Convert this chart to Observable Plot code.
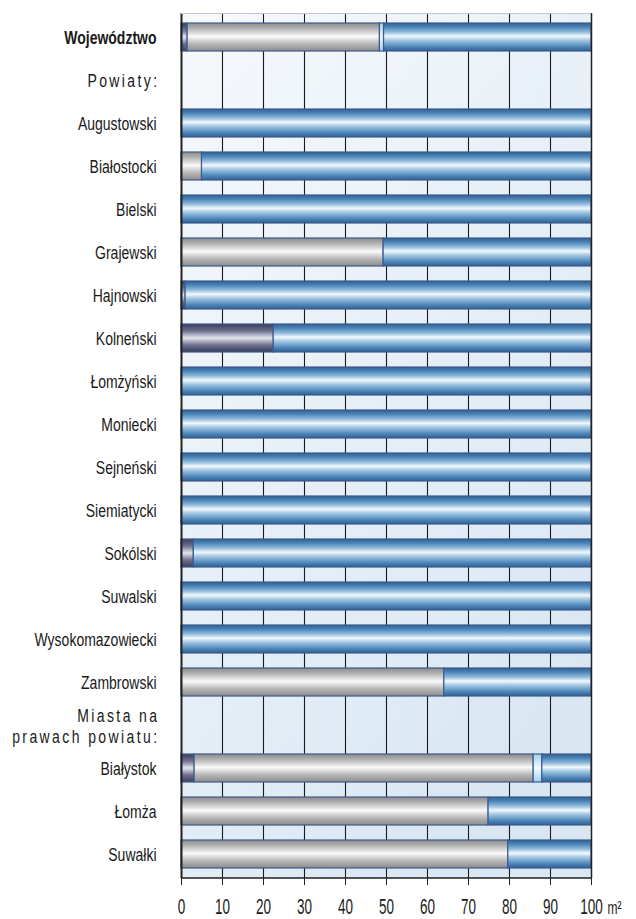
<!DOCTYPE html>
<html>
<head>
<meta charset="utf-8">
<script src="https://cdn.jsdelivr.net/npm/d3@7"></script>
<script src="https://cdn.jsdelivr.net/npm/@observablehq/plot@0.6"></script>
<style>
  body { margin: 0; background: #fff; }
</style>
</head>
<body>
<div id="chart"></div>
<script>
// ---- data ----
const categories = ["Województwo","Powiaty:","Augustowski","Białostocki","Bielski","Grajewski","Hajnowski","Kolneński","Łomżyński","Moniecki","Sejneński","Siemiatycki","Sokólski","Suwalski","Wysokomazowiecki","Zambrowski","Miasta na\nprawach powiatu:","Białystok","Łomża","Suwałki"];
const totalRow = "Województwo";
const sectionHeaders = ["Powiaty:","Miasta na\nprawach powiatu:"];
const seriesNames = ["seria 1","seria 2","seria 3","seria 4"];
const series1 = [1.5, null, 0, 0, 0, 0, 1, 22.5, 0, 0, 0, 0, 3, 0, 0, 0, null, 3.2, 0, 0];
const series2 = [46.9, null, 0, 5, 0, 49.3, 0, 0, 0, 0, 0, 0, 0, 0, 0, 64.1, null, 82.7, 74.9, 79.7];
const series3 = [1.0, null, 0, 0, 0, 0, 0, 0, 0, 0, 0, 0, 0, 0, 0, 0, null, 2.1, 0, 0];
const series4 = [50.6, null, 100, 95, 100, 50.7, 99, 77.5, 100, 100, 100, 100, 97, 100, 100, 35.9, null, 12.0, 25.1, 20.3];
const xTicks = [0,10,20,30,40,50,60,70,80,90,100];
const unitLabel = "m²";

// ---- table ----
const allSeries = [series1, series2, series3, series4];
const table = [];
allSeries.forEach((vals, s) => {
  vals.forEach((v, i) => {
    if (v != null && v > 0) table.push({row: categories[i], series: seriesNames[s], value: v});
  });
});

const NS = "http://www.w3.org/2000/svg";
const defsMark = () => {
  const defs = document.createElementNS(NS, "defs");
  defs.innerHTML = `
  <linearGradient id="bgGrad" x1="0" y1="0" x2="0.6" y2="1">
    <stop offset="0" stop-color="#f6f9fc"/>
    <stop offset="1" stop-color="#d9e7f3"/>
  </linearGradient>
  <linearGradient id="g1" x1="0" y1="0" x2="0" y2="1">
    <stop offset="0" stop-color="#3a3d58"/>
    <stop offset="0.25" stop-color="#6e7190"/>
    <stop offset="0.5" stop-color="#e6e6ee"/>
    <stop offset="0.75" stop-color="#6e7190"/>
    <stop offset="1" stop-color="#3a3d58"/>
  </linearGradient>
  <linearGradient id="g2" x1="0" y1="0" x2="0" y2="1">
    <stop offset="0" stop-color="#8a8a8a"/>
    <stop offset="0.2" stop-color="#b4b4b4"/>
    <stop offset="0.48" stop-color="#fafafa"/>
    <stop offset="0.75" stop-color="#b6b6b6"/>
    <stop offset="1" stop-color="#8c8c8c"/>
  </linearGradient>
  <linearGradient id="g3" x1="0" y1="0" x2="0" y2="1">
    <stop offset="0" stop-color="#9fd0ee"/>
    <stop offset="0.5" stop-color="#f2fbff"/>
    <stop offset="1" stop-color="#9fd0ee"/>
  </linearGradient>
  <linearGradient id="g4" x1="0" y1="0" x2="0" y2="1">
    <stop offset="0" stop-color="#2d6092"/>
    <stop offset="0.15" stop-color="#4d85b8"/>
    <stop offset="0.32" stop-color="#8fbadc"/>
    <stop offset="0.47" stop-color="#f3f9fc"/>
    <stop offset="0.62" stop-color="#a0c6e3"/>
    <stop offset="0.85" stop-color="#4d85b8"/>
    <stop offset="1" stop-color="#2d6092"/>
  </linearGradient>`;
  return defs;
};

const edgeLines = (index, scales, values, dims) => {
  const g = document.createElementNS(NS, "g");
  const x0 = scales.x(0), x1 = scales.x(100);
  const top = dims.marginTop, bottom = dims.height - dims.marginBottom;
  const mk = (a, b, c, d, stroke, w) => {
    const l = document.createElementNS(NS, "line");
    l.setAttribute("x1", a); l.setAttribute("y1", b); l.setAttribute("x2", c); l.setAttribute("y2", d);
    l.setAttribute("stroke", stroke); l.setAttribute("stroke-width", w);
    g.appendChild(l);
  };
  mk(x0, top + 0.5, x1, top + 0.5, "#c4c8cc", 1);
  mk(x0, bottom, x1, bottom, "#222", 1.5);
  return g;
};

const regularRows = categories.filter(c => c !== totalRow && !sectionHeaders.includes(c));

const chart = Plot.plot({
  width: 636,
  height: 919,
  marginTop: 13,
  marginBottom: 41,
  marginLeft: 181,
  marginRight: 45,
  style: {fontFamily: "'Liberation Sans', Arial, sans-serif", fontSize: "14px", color: "#1a1a1a", background: "#fff"},
  x: {domain: [0, 100], axis: null},
  y: {domain: categories, axis: null, paddingInner: 0.35, paddingOuter: 0.175},
  color: {domain: seriesNames, range: ["url(#g1)", "url(#g2)", "url(#g3)", "url(#g4)"]},
  marks: [
    defsMark,
    Plot.frame({fill: "url(#bgGrad)"}),
    Plot.ruleX(xTicks.slice(1, -1), {stroke: "#1a1a1a", strokeWidth: 1.1}),
    Plot.barX(table, {x: "value", y: "row", fill: "series", stroke: "#3e5b8e", strokeWidth: 1.2}),
    Plot.ruleX([0], {stroke: "#222", strokeWidth: 2}),
    Plot.ruleX([100], {stroke: "#222", strokeWidth: 1.5}),
    edgeLines,
    Plot.axisX({ticks: xTicks, tickSize: 7, tickPadding: 12, tickFormat: d => String(d), stroke: "#222", fontSize: 13.5, label: null, ariaLabel: "x-axis"}),
    Plot.text([unitLabel], {x: 100, frameAnchor: "bottom", textAnchor: "start", lineAnchor: "bottom", dx: 16, dy: 35, text: d => d, fontSize: 12, ariaLabel: "unit"}),
    Plot.text(regularRows, {y: d => d, text: d => d, frameAnchor: "left", textAnchor: "end", dx: -25}),
    Plot.text([totalRow], {y: d => d, text: d => d, frameAnchor: "left", textAnchor: "end", dx: -25, fontWeight: "bold"}),
    Plot.text(sectionHeaders, {y: d => d, text: d => d, frameAnchor: "left", textAnchor: "end", dx: -22, lineHeight: 1.1})
  ]
});

// letter-spaced section headers
const headerKeys = sectionHeaders.map(s => s.replace(/\s+/g, ""));
chart.querySelectorAll("text").forEach(t => {
  if (headerKeys.includes(t.textContent.replace(/\s+/g, ""))) t.setAttribute("letter-spacing", "2.4");
});

// vertically stretch glyphs (reference type is tall and narrow)
const axisTexts = new Set(xTicks.map(String));
chart.querySelectorAll("text").forEach(t => {
  const txt = t.textContent.trim();
  const K = axisTexts.has(txt) ? 1.7 : txt === unitLabel ? 1.5 : 1.35;
  const tr = t.getAttribute("transform");
  if (tr) {
    t.setAttribute("transform", tr + ` scale(1,${K})`);
  } else {
    const x = +(t.getAttribute("x") || 0), y = +(t.getAttribute("y") || 0);
    t.removeAttribute("x"); t.removeAttribute("y");
    t.setAttribute("transform", `translate(${x},${y}) scale(1,${K})`);
  }
});

document.getElementById("chart").appendChild(chart);
</script>
</body>
</html>
